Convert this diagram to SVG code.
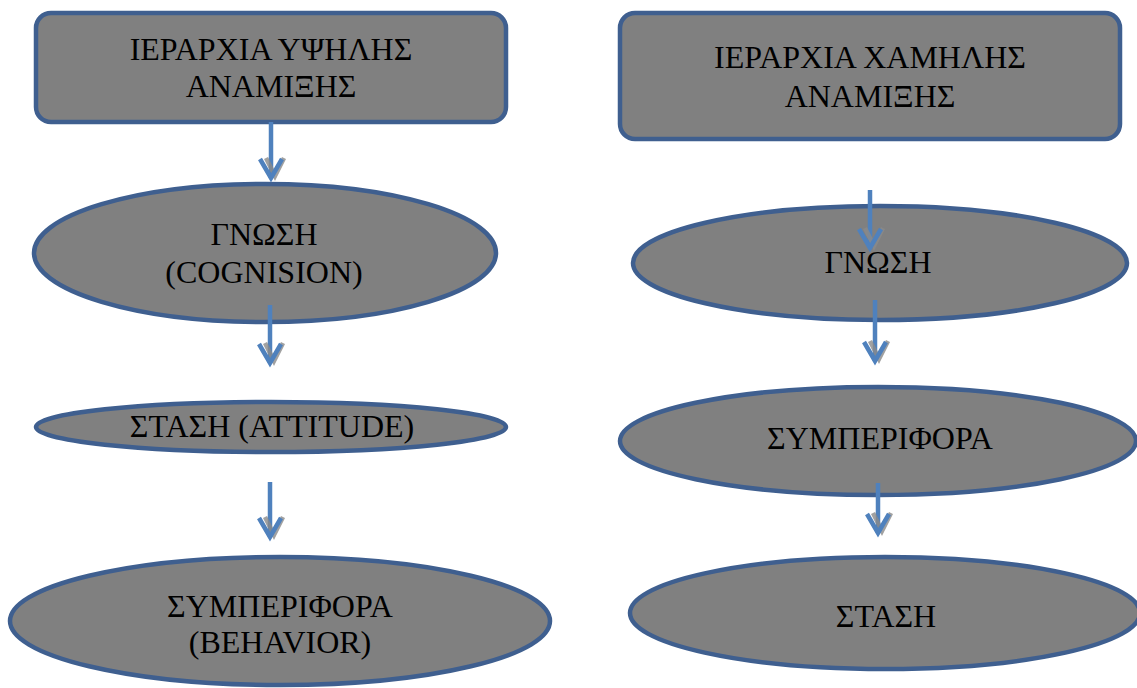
<svg xmlns="http://www.w3.org/2000/svg" width="1137" height="688" viewBox="0 0 1137 688">
<style>
.box{fill:#808080;stroke:#3f5f8f;stroke-width:4.5}
.c{fill:none;stroke:#4f81bd;stroke-width:4.5}
</style>
<defs>
<marker id="ah" markerUnits="userSpaceOnUse" markerWidth="40" markerHeight="40" refX="20" refY="20" orient="auto" overflow="visible">
<polyline points="1,9 19,18 1,27" fill="none" stroke="#8a8a8a" stroke-width="4.5" transform="translate(-1,-2)" opacity="0.8"/>
<polyline points="1,9 20,20 1,31" fill="none" stroke="#4f81bd" stroke-width="4.5"/>
</marker>
</defs>
<rect width="1137" height="688" fill="#fff"/>
<g font-family="Liberation Serif, Times New Roman, serif" font-size="32" text-anchor="middle" fill="#000">
<g id="high">
<rect class="box" x="36" y="13" width="470" height="109" rx="15"/>
<text x="271" y="60">ΙΕΡΑΡΧΙΑ ΥΨΗΛΗΣ</text>
<text x="271" y="97">ΑΝΑΜΙΞΗΣ</text>
</g>
<g id="low">
<rect class="box" x="620" y="13" width="500" height="126" rx="15"/>
<text x="870" y="68">ΙΕΡΑΡΧΙΑ ΧΑΜΗΛΗΣ</text>
<text x="870" y="107">ΑΝΑΜΙΞΗΣ</text>
</g>
<g id="gnosi-l">
<ellipse class="box" cx="265" cy="253" rx="231" ry="69"/>
<text x="264" y="245">ΓΝΩΣΗ</text>
<text x="264" y="283">(COGNISION)</text>
</g>
<g id="stasi-l">
<ellipse class="box" cx="271" cy="427" rx="235" ry="25"/>
<text x="272" y="437">ΣΤΑΣΗ (ATTITUDE)</text>
</g>
<g id="symp-l">
<ellipse class="box" cx="280" cy="621" rx="270" ry="64"/>
<text x="280" y="617">ΣΥΜΠΕΡΙΦΟΡΑ</text>
<text x="280" y="653">(BEHAVIOR)</text>
</g>
<g id="gnosi-r">
<ellipse class="box" cx="880" cy="263" rx="247" ry="57"/>
<text x="878" y="273">ΓΝΩΣΗ</text>
</g>
<g id="symp-r">
<ellipse class="box" cx="878" cy="441" rx="258" ry="54"/>
<text x="880" y="449">ΣΥΜΠΕΡΙΦΟΡΑ</text>
</g>
<g id="stasi-r">
<ellipse class="box" cx="885" cy="613" rx="255" ry="56"/>
<text x="886" y="627">ΣΤΑΣΗ</text>
</g>
</g>
<g id="connectors">
<path class="c" d="M271,122 V178" marker-end="url(#ah)"/>
<path class="c" d="M270,305 V363" marker-end="url(#ah)"/>
<path class="c" d="M270,482 V537" marker-end="url(#ah)"/>
<path class="c" d="M870,190 V248" marker-end="url(#ah)"/>
<path class="c" d="M875,300 V361" marker-end="url(#ah)"/>
<path class="c" d="M878,483 V533" marker-end="url(#ah)"/>
</g>
</svg>
